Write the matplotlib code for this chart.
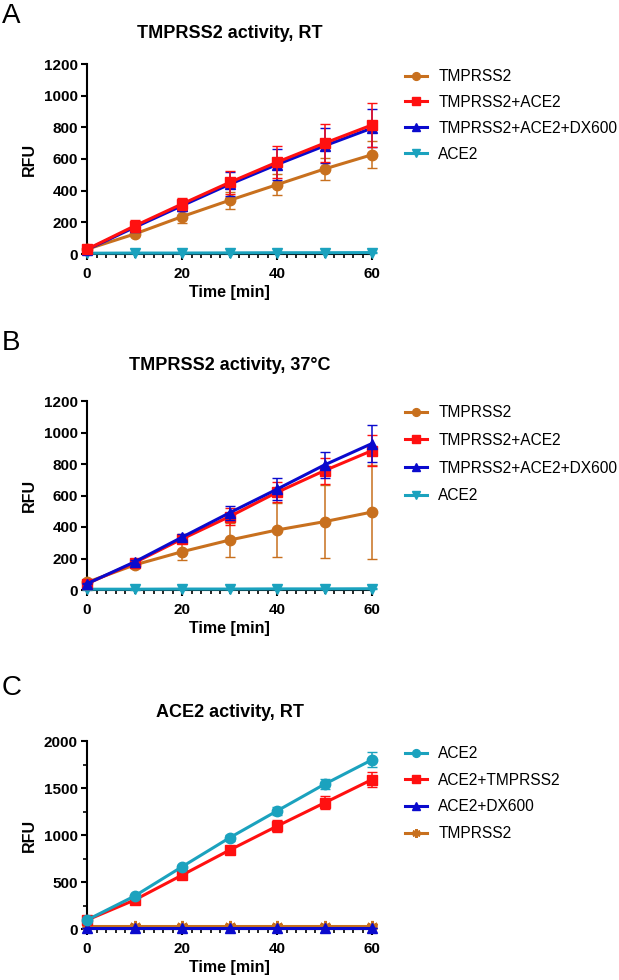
#!/usr/bin/env python3
# -*- coding: utf-8 -*-
"""
TMPRSS2 / ACE2 activity time courses (three panels)
"""

import matplotlib
matplotlib.use('Agg')
import matplotlib.pyplot as plt
from matplotlib.ticker import MultipleLocator

plt.rcParams['font.family'] = ['Liberation Sans', 'DejaVu Sans']

# ---- data ----
time = [0, 10, 20, 30, 40, 50, 60]

# Panel A: TMPRSS2 activity, RT
a_tmprss2 = [30, 126, 236, 339, 438, 537, 627]
a_tmprss2_err = [8, 15, 40, 55, 65, 70, 85]
a_tmp_ace2 = [30, 177, 316, 452, 580, 700, 815]
a_tmp_ace2_err = [5, 35, 40, 75, 100, 120, 140]
a_tmp_ace2_dx = [28, 168, 305, 440, 565, 683, 795]
a_tmp_ace2_dx_err = [5, 25, 35, 75, 95, 110, 120]
a_ace2 = [5, 6, 6, 7, 8, 8, 9]
a_ace2_err = [2, 2, 2, 2, 2, 2, 2]

# Panel B: TMPRSS2 activity, 37°C
b_tmprss2 = [49, 159, 243, 317, 381, 434, 495]
b_tmprss2_err = [10, 20, 55, 110, 170, 233, 300]
b_tmp_ace2 = [40, 173, 324, 466, 620, 758, 885]
b_tmp_ace2_err = [5, 15, 25, 52, 64, 82, 100]
b_tmp_ace2_dx = [40, 178, 335, 490, 640, 794, 930]
b_tmp_ace2_dx_err = [5, 12, 20, 43, 69, 84, 115]
b_ace2 = [5, 5, 6, 6, 7, 7, 8]
b_ace2_err = [2, 2, 2, 2, 2, 2, 2]

# Panel C: ACE2 activity, RT
c_ace2 = [96, 350, 662, 970, 1256, 1540, 1800]
c_ace2_err = [10, 15, 20, 35, 40, 55, 80]
c_ace2_tmp = [95, 308, 573, 839, 1094, 1342, 1590]
c_ace2_tmp_err = [10, 15, 20, 40, 65, 70, 80]
c_ace2_dx = [12, 12, 12, 12, 12, 12, 12]
c_ace2_dx_err = [3, 3, 3, 3, 3, 3, 3]
c_tmprss2 = [35, 35, 35, 35, 35, 35, 35]
c_tmprss2_err = [5, 5, 5, 5, 5, 5, 5]

# Colors
orange = '#C8701E'
red = '#FF1010'
blue = '#0A0ACD'
cyan = '#1BA2BE'

W, H = 619, 980
fig = plt.figure(figsize=(W / 100, H / 100), dpi=100)


def px_axes(left, right, top, bottom):
    return fig.add_axes([left / W, 1 - bottom / H, (right - left) / W, (bottom - top) / H])


def style_axis(ax, ymax, ymajor, yminor=None):
    ax.set_xlim(0, 60)
    ax.set_ylim(0, ymax)
    for s in ['top', 'right']:
        ax.spines[s].set_visible(False)
    for s in ['left', 'bottom']:
        ax.spines[s].set_linewidth(1.5)
    ax.xaxis.set_major_locator(MultipleLocator(20))
    ax.xaxis.set_minor_locator(MultipleLocator(2))
    ax.yaxis.set_major_locator(MultipleLocator(ymajor))
    if yminor:
        ax.yaxis.set_minor_locator(MultipleLocator(yminor))
    ax.tick_params(which='major', length=4.5, width=1.5, labelsize=11)
    ax.tick_params(axis='x', which='major', pad=5)
    ax.tick_params(axis='y', which='major', pad=2)
    ax.tick_params(which='minor', length=3, width=1.2)
    for lab in ax.get_xticklabels() + ax.get_yticklabels():
        lab.set_fontweight('bold')
    ax.set_ylabel('RFU', fontsize=11.5, fontweight='bold', labelpad=5)
    ax.set_xlabel('Time [min]', fontsize=11.5, fontweight='bold', labelpad=3)


def series(ax, y, err, color, marker, label, z, ms=7.5, mew=1):
    return ax.errorbar(time, y, yerr=err, color=color, ecolor=color, elinewidth=1.1,
                       capsize=3.5, capthick=1.1, lw=2.2, marker=marker, ms=ms,
                       mew=mew, label=label, zorder=z, clip_on=False)


def legend(ax, entries, top, spacing):
    # only line + marker in the legend, like the original
    ax.legend([e[0] for e in entries], [e[0].get_label() for e in entries],
              loc='upper left', bbox_to_anchor=(405 / W, 1 - top / H),
              bbox_transform=fig.transFigure, frameon=False, fontsize=11.2,
              borderpad=0, handlelength=1.4, handletextpad=0.75,
              labelspacing=spacing, borderaxespad=0, markerscale=0.75)


# ---- Panel A ----
axA = px_axes(87, 372, 64, 254)
eA4 = series(axA, a_ace2, a_ace2_err, cyan, 'v', 'ACE2', 3)
eA1 = series(axA, a_tmprss2, a_tmprss2_err, orange, 'o', 'TMPRSS2', 4)
eA3 = series(axA, a_tmp_ace2_dx, a_tmp_ace2_dx_err, blue, '^', 'TMPRSS2+ACE2+DX600', 5)
eA2 = series(axA, a_tmp_ace2, a_tmp_ace2_err, red, 's', 'TMPRSS2+ACE2', 6)
for e in (eA1, eA2, eA3, eA4):
    e[0].set_label(e.get_label())
style_axis(axA, 1200, 200)
legend(axA, [eA1, eA2, eA3, eA4], 69, 0.7)
fig.text(230 / W, 1 - 33 / H, 'TMPRSS2 activity, RT', ha='center', va='center',
         fontsize=13, fontweight='bold')
fig.text(2 / W, 1 - 23 / H, 'A', fontsize=20, va='baseline', ha='left')

# ---- Panel B ----
axB = px_axes(87, 372, 401, 590)
eB4 = series(axB, b_ace2, b_ace2_err, cyan, 'v', 'ACE2', 3)
eB1 = series(axB, b_tmprss2, b_tmprss2_err, orange, 'o', 'TMPRSS2', 4)
eB2 = series(axB, b_tmp_ace2, b_tmp_ace2_err, red, 's', 'TMPRSS2+ACE2', 5)
eB3 = series(axB, b_tmp_ace2_dx, b_tmp_ace2_dx_err, blue, '^', 'TMPRSS2+ACE2+DX600', 6)
for e in (eB1, eB2, eB3, eB4):
    e[0].set_label(e.get_label())
style_axis(axB, 1200, 200)
legend(axB, [eB1, eB2, eB3, eB4], 405, 0.82)
fig.text(230 / W, 1 - 365 / H, 'TMPRSS2 activity, 37°C', ha='center', va='center',
         fontsize=13, fontweight='bold')
fig.text(2 / W, 1 - 350 / H, 'B', fontsize=20, va='baseline', ha='left')

# ---- Panel C ----
axC = px_axes(87, 372, 741, 929)
eC3 = series(axC, c_ace2_dx, c_ace2_dx_err, blue, '^', 'ACE2+DX600', 5)
eC4 = series(axC, c_tmprss2, c_tmprss2_err, orange, (6, 2, 0), 'TMPRSS2', 4, ms=8, mew=2)
eC2 = series(axC, c_ace2_tmp, c_ace2_tmp_err, red, 's', 'ACE2+TMPRSS2', 5)
eC1 = series(axC, c_ace2, c_ace2_err, cyan, 'o', 'ACE2', 6)
for e in (eC1, eC2, eC3, eC4):
    e[0].set_label(e.get_label())
style_axis(axC, 2000, 500, 250)
legend(axC, [eC1, eC2, eC3, eC4], 746, 0.75)
fig.text(230 / W, 1 - 712 / H, 'ACE2 activity, RT', ha='center', va='center',
         fontsize=13, fontweight='bold')
fig.text(2 / W, 1 - 695 / H, 'C', fontsize=20, va='baseline', ha='left')

fig.savefig('out.png', dpi=100, facecolor='white')
